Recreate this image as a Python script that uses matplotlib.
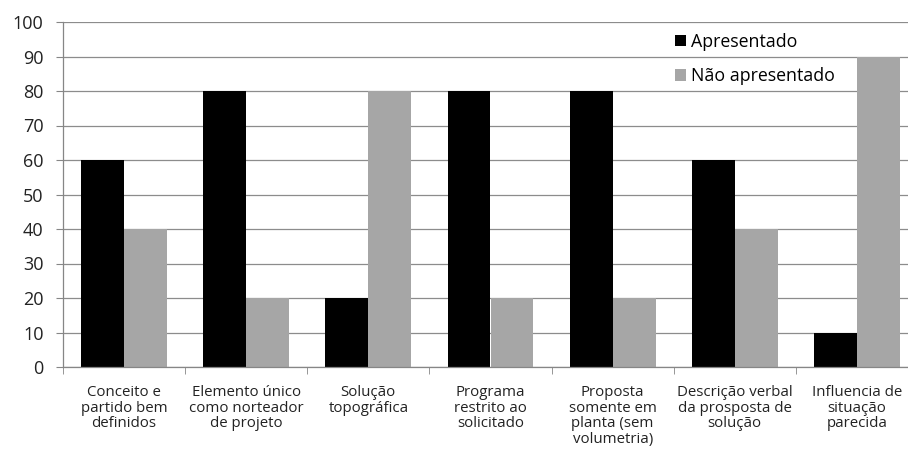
import matplotlib
matplotlib.use("Agg")
import matplotlib.pyplot as plt
import numpy as np

categories = [
    "Conceito e\npartido bem\ndefinidos",
    "Elemento único\ncomo norteador\nde projeto",
    "Solução\ntopográfica",
    "Programa\nrestrito ao\nsolicitado",
    "Proposta\nsomente em\nplanta (sem\nvolumetria)",
    "Descrição verbal\nda prosposta de\nsolução",
    "Influencia de\nsituação\nparecida",
]
apresentado = [60, 80, 20, 80, 80, 60, 10]
nao_apresentado = [40, 20, 80, 20, 20, 40, 90]
series_names = ["Apresentado", "Não apresentado"]
y_ticks = [0, 10, 20, 30, 40, 50, 60, 70, 80, 90, 100]

plt.rcParams["font.family"] = ["Open Sans", "DejaVu Sans"]

W, H = 908, 450
fig = plt.figure(figsize=(W / 100, H / 100), dpi=100)
ax = fig.add_axes([63 / W, 83 / H, (918 - 63) / W, (367 - 22) / H])

x = np.arange(len(categories))
bw = 0.352
ax.bar(x - bw / 2, apresentado, width=bw, color="#000000", label=series_names[0], zorder=2)
ax.bar(x + bw / 2, nao_apresentado, width=bw, color="#a6a6a6", label=series_names[1], zorder=2)

ax.set_xlim(-0.5, len(categories) - 0.5)
ax.set_ylim(0, 100)
ax.set_yticks(y_ticks)
ax.tick_params(axis="y", labelsize=13, length=5, color="#868686", pad=9, labelcolor="#222222")
ax.yaxis.grid(True, color="#8c8c8c", linewidth=0.9, zorder=0)
ax.set_axisbelow(True)

ax.set_xticks(x)
ax.set_xticklabels(categories, fontsize=10.8, linespacing=1.06, color="#222222")
ax.set_xticks(np.arange(len(categories) + 1) - 0.5, minor=True)
ax.tick_params(axis="x", which="major", length=0, pad=13)
ax.tick_params(axis="x", which="minor", length=5, color="#868686")

for side in ["top", "right"]:
    ax.spines[side].set_visible(False)
for side in ["left", "bottom"]:
    ax.spines[side].set_color("#868686")
    ax.spines[side].set_linewidth(0.9)

leg = ax.legend(loc="upper left", bbox_to_anchor=(0.697, 1.015), frameon=False,
                fontsize=12.8, handlelength=0.6, handleheight=0.6,
                handletextpad=0.3, labelspacing=0.92)

fig.savefig("out.png", dpi=100)
